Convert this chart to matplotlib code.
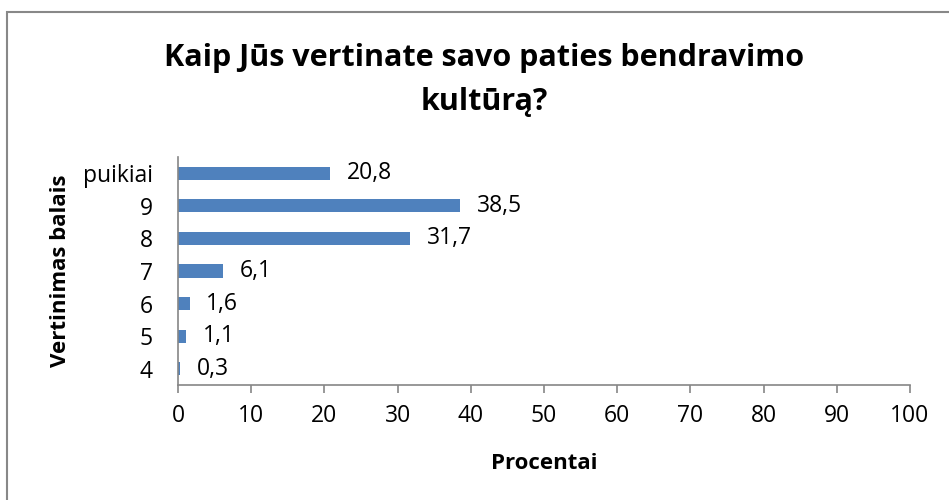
import matplotlib
matplotlib.use("Agg")
import matplotlib.pyplot as plt
from matplotlib.patches import Rectangle

plt.rcParams['font.family'] = ['Open Sans', 'DejaVu Sans']

# duomenys
categories = ['4', '5', '6', '7', '8', '9', 'puikiai']
values = [0.3, 1.1, 1.6, 6.1, 31.7, 38.5, 20.8]
value_labels = ['0,3', '1,1', '1,6', '6,1', '31,7', '38,5', '20,8']
x_ticks = [0, 10, 20, 30, 40, 50, 60, 70, 80, 90, 100]

title = "Kaip Jūs vertinate savo paties bendravimo\nkultūrą?"
bar_color = '#4F81BD'
axis_color = '#868686'

fig = plt.figure(figsize=(9.49, 5.0), dpi=100)
ax = fig.add_axes([178 / 949, 1 - 385 / 500, (910 - 178) / 949, (385 - 157) / 500])

ypos = list(range(len(categories)))
ax.barh(ypos, values, height=0.4, color=bar_color)
for y, v, lab in zip(ypos, values, value_labels):
    ax.annotate(lab, (v, y), xytext=(12, 0), textcoords='offset points',
                ha='left', va='center', fontsize=16.5)

ax.set_xlim(0, 100)
ax.set_ylim(-0.5, len(categories) - 0.5)
ax.set_xticks(x_ticks)
ax.set_xticklabels([str(t) for t in x_ticks], fontsize=16.5)
ax.set_yticks(ypos)
ax.set_yticklabels(categories, fontsize=16.5)
ax.tick_params(axis='x', length=6, width=1.2, color=axis_color, pad=8)
ax.tick_params(axis='y', length=0, pad=18)

for s in ['top', 'right']:
    ax.spines[s].set_visible(False)
for s in ['left', 'bottom']:
    ax.spines[s].set_color(axis_color)
    ax.spines[s].set_linewidth(1.2)

ax.set_xlabel('Procentai', fontsize=16, fontweight='bold', labelpad=18)
fig.text(60 / 949, 1 - 271 / 500, 'Vertinimas balais', rotation=90,
         ha='center', va='center', fontsize=16, fontweight='bold')

fig.text(484 / 949, 1 - 80 / 500, title, ha='center', va='center',
         fontsize=22, fontweight='bold', linespacing=1.65)

# ramelis aplink diagrama
fig.patches.append(Rectangle((7 / 949, -0.05), 1.0, 1 - 12 / 500 + 0.05,
                             transform=fig.transFigure, fill=False,
                             edgecolor='#888888', linewidth=1.5))

fig.savefig('out.png', dpi=100)
